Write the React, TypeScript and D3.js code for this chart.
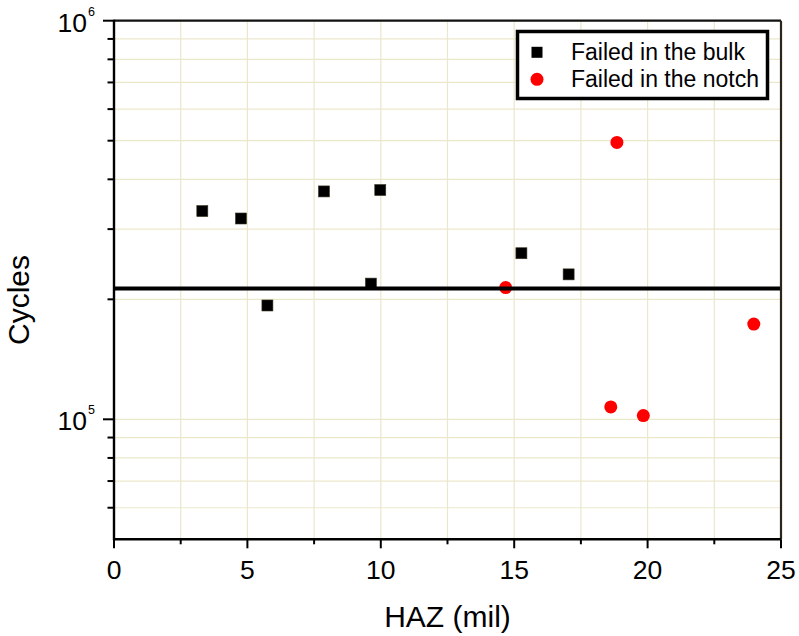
import React from "react";
import * as d3 from "d3";

const bulkX = [3.31, 4.76, 5.75, 7.87, 9.63, 9.98, 15.27, 17.04];
const bulkY = [333000, 319000, 193000, 373000, 219000, 376000, 261000, 231000];
const notchX = [14.68, 18.62, 18.85, 19.84, 23.98];
const notchY = [214000, 107400, 495000, 102200, 173300];
const threshold = 213000;
const xMajorTicks = [0, 5, 10, 15, 20, 25];
const xMinorTicks = [2.5, 7.5, 12.5, 17.5, 22.5];
const yMajorTicks = [1e5, 1e6];
const yMinorTicks = [6e4, 7e4, 8e4, 9e4, 2e5, 3e5, 4e5, 5e5, 6e5, 7e5, 8e5, 9e5];
const yTickExp = ["5", "6"];
const legendLabels = ["Failed in the bulk", "Failed in the notch"];
const xTitle = "HAZ (mil)";
const yTitle = "Cycles";

const W = 799;
const H = 636;
const L = 114;
const R = 781;
const T = 20.7;
const B = 539.3;
const FONT = "'Liberation Sans', Arial, Helvetica, sans-serif";
const GRID = "#ebe7cb";

export default function App() {
  const x = d3.scaleLinear().domain([0, 25]).range([L, R]);
  const y = d3.scaleLog().domain([5e4, 1e6]).range([B, T]);

  const gridX = [...xMajorTicks.slice(1, -1), ...xMinorTicks];
  const gridY = [...yMinorTicks, 1e5];

  return (
    <div style={{ position: "absolute", left: 0, top: 0 }}>
      <svg width={W} height={H} style={{ display: "block", background: "#fff" }}>
        {/* grid */}
        {gridX.map((v, i) => (
          <line key={"gx" + i} x1={x(v)} x2={x(v)} y1={T} y2={B} stroke={GRID} strokeWidth={1.2} />
        ))}
        {gridY.map((v, i) => (
          <line key={"gy" + i} x1={L} x2={R} y1={y(v)} y2={y(v)} stroke={GRID} strokeWidth={1.2} />
        ))}

        {/* points */}
        {bulkX.map((v, i) => (
          <rect
            key={"b" + i}
            x={x(v) - 5.5}
            y={y(bulkY[i]) - 5.5}
            width={11}
            height={11}
            fill="#000"
            stroke="#3a3420"
            strokeWidth={0.6}
          />
        ))}
        {notchX.map((v, i) => (
          <circle key={"n" + i} cx={x(v)} cy={y(notchY[i])} r={6.5} fill="#ff0000" />
        ))}

        {/* threshold line */}
        <line x1={L} x2={R} y1={y(threshold)} y2={y(threshold)} stroke="#000" strokeWidth={4} />

        {/* frame */}
        <line x1={L} x2={R} y1={T} y2={T} stroke="#111" strokeWidth={2.2} />
        <line x1={R} x2={R} y1={T} y2={B} stroke="#2a2618" strokeWidth={2.2} />
        <line x1={L} x2={R} y1={B} y2={B} stroke="#000" strokeWidth={2.4} />
        <line x1={L} x2={L} y1={T - 1} y2={B + 1} stroke="#000" strokeWidth={2.4} />

        {/* x ticks */}
        {xMajorTicks.map((v, i) => (
          <g key={"xt" + i}>
            <line x1={x(v)} x2={x(v)} y1={B} y2={B + 9} stroke="#000" strokeWidth={2} />
            <text
              x={x(v)}
              y={579}
              textAnchor="middle"
              fontFamily={FONT}
              fontSize={26.5}
              fill="#000"
            >
              {v}
            </text>
          </g>
        ))}
        {xMinorTicks.map((v, i) => (
          <line key={"xm" + i} x1={x(v)} x2={x(v)} y1={B} y2={B + 5} stroke="#000" strokeWidth={2} />
        ))}

        {/* y ticks */}
        {yMajorTicks.map((v, i) => (
          <g key={"yt" + i}>
            <line x1={L - 11} x2={L} y1={y(v)} y2={y(v)} stroke="#000" strokeWidth={2} />
            <text x={87} y={y(v) + 11} textAnchor="end" fontFamily={FONT} fontSize={26.5} fill="#000">
              10
            </text>
            <text x={88} y={y(v) - 5} textAnchor="start" fontFamily={FONT} fontSize={12.5} fill="#000">
              {yTickExp[i]}
            </text>
          </g>
        ))}
        {yMinorTicks.map((v, i) => (
          <line key={"ym" + i} x1={L - 6.5} x2={L} y1={y(v)} y2={y(v)} stroke="#000" strokeWidth={2} />
        ))}

        {/* axis titles */}
        <text x={(L + R) / 2} y={627} textAnchor="middle" fontFamily={FONT} fontSize={30} fill="#000">
          {xTitle}
        </text>
        <text
          transform={`translate(29, 300) rotate(-90)`}
          textAnchor="middle"
          fontFamily={FONT}
          fontSize={30}
          fill="#000"
        >
          {yTitle}
        </text>

        {/* legend */}
        <rect x={517.5} y={31.5} width={250} height={67} fill="#fff" stroke="#000" strokeWidth={3.5} />
        <rect x={537 - 5.5} y={52.3 - 5.5} width={11} height={11} fill="#000" />
        <circle cx={537} cy={79.3} r={6.5} fill="#ff0000" />
        <text x={571} y={59.5} fontFamily={FONT} fontSize={23} fill="#000">
          {legendLabels[0]}
        </text>
        <text x={571} y={86.5} fontFamily={FONT} fontSize={23} fill="#000">
          {legendLabels[1]}
        </text>
      </svg>
    </div>
  );
}
